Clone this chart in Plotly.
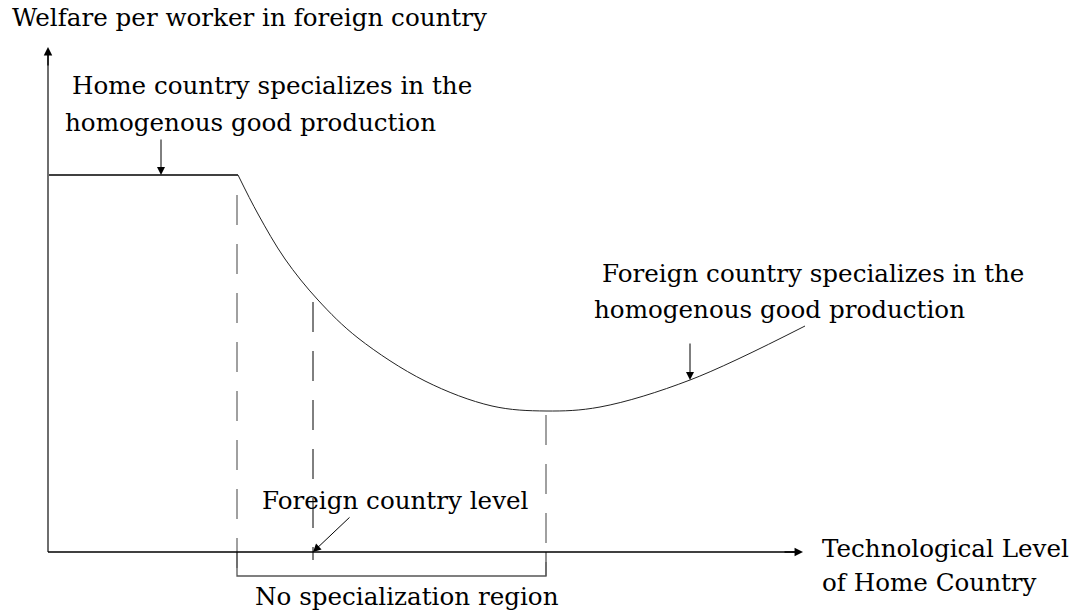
import plotly.graph_objects as go

# Schematic data (units: horizontal = technological level, vertical = welfare)
flat_x = [0, 190]
flat_y = [377, 377]

curve_x = [190, 210, 237, 270, 310, 377, 444, 498, 552, 642, 757]
curve_y = [377, 338, 293, 252, 214, 171, 146, 141, 145, 172, 226]

# Key technological levels
no_spec_start = 189
foreign_level = 265
no_spec_end = 498
home_spec_arrow_x = 113
foreign_spec_arrow_x = 642

x_axis_end = 755
y_axis_end = 505
bracket_y = -24

FONT = "DejaVu Serif"
FSIZE = 24.6
fig = go.Figure()

dash_gray = dict(color="#6e6e6e", width=1.3, dash="30px,19px")
dash_black = dict(color="black", width=1, dash="30px,19px")

fig.add_trace(go.Scatter(x=flat_x, y=flat_y, mode="lines", line=dict(color="black", width=1.3)))
fig.add_trace(go.Scatter(x=curve_x, y=curve_y, mode="lines",
                         line=dict(color="#222", width=1, shape="spline", smoothing=1.0)))

# dashed verticals
fig.add_trace(go.Scatter(x=[no_spec_start, no_spec_start], y=[curve_y[0] - 20, bracket_y],
                         mode="lines", line=dash_gray))
fig.add_trace(go.Scatter(x=[foreign_level, foreign_level], y=[250, -8], mode="lines", line=dash_black))
fig.add_trace(go.Scatter(x=[no_spec_end, no_spec_end], y=[137, bracket_y], mode="lines", line=dash_gray))

# bracket
fig.add_trace(go.Scatter(x=[no_spec_start, no_spec_start, no_spec_end, no_spec_end],
                         y=[0, bracket_y, bracket_y, 0], mode="lines",
                         line=dict(color="#555", width=1.3)))

# axes lines
fig.add_trace(go.Scatter(x=[0, 0], y=[0, y_axis_end - 8], mode="lines", line=dict(color="#6e6e6e", width=2)))
fig.add_trace(go.Scatter(x=[0, x_axis_end - 8], y=[0, 0], mode="lines", line=dict(color="black", width=1.3)))

def arrow(xt, yt, xs, ys, w=1, size=1.6):
    fig.add_annotation(x=xt, y=yt, ax=xs, ay=ys, xref="x", yref="y", axref="x", ayref="y",
                       text="", showarrow=True, arrowhead=2, arrowsize=size, arrowwidth=w,
                       arrowcolor="black")

arrow(0, y_axis_end, 0, y_axis_end - 20, 1.3, 1.3)
arrow(x_axis_end, 0, x_axis_end - 20, 0, 1.3, 1.3)
arrow(home_spec_arrow_x, flat_y[0], home_spec_arrow_x, flat_y[0] + 37)
arrow(foreign_spec_arrow_x, 172, foreign_spec_arrow_x, 210)
arrow(foreign_level, 0, foreign_level + 38, 36)

def label(x, y, t):
    fig.add_annotation(x=x, y=y, xref="x", yref="y", text=t, showarrow=False,
                       xanchor="left", yanchor="middle",
                       font=dict(family=FONT, size=FSIZE, color="black"))

label(-38, 535, "Welfare per worker in foreign country")
label(22, 467, "Home country specializes in the")
label(15, 430, "homogenous good production")
label(552, 279, "Foreign country specializes in the")
label(544, 243, "homogenous good production")
label(212, 52, "Foreign country level")
label(205, -44, "No specialization region")
label(772, 4, "Technological Level")
label(772, -30, "of Home Country")

fig.update_layout(
    width=1075, height=615, margin=dict(l=0, r=0, t=0, b=0),
    paper_bgcolor="white", plot_bgcolor="white", showlegend=False,
    xaxis=dict(range=[-48, 1027], visible=False, fixedrange=True),
    yaxis=dict(range=[-63, 552], visible=False, fixedrange=True),
)

fig.write_html("out.html", config={"displayModeBar": False},
               post_script="document.body.style.margin='0';document.body.style.overflow='hidden';")
